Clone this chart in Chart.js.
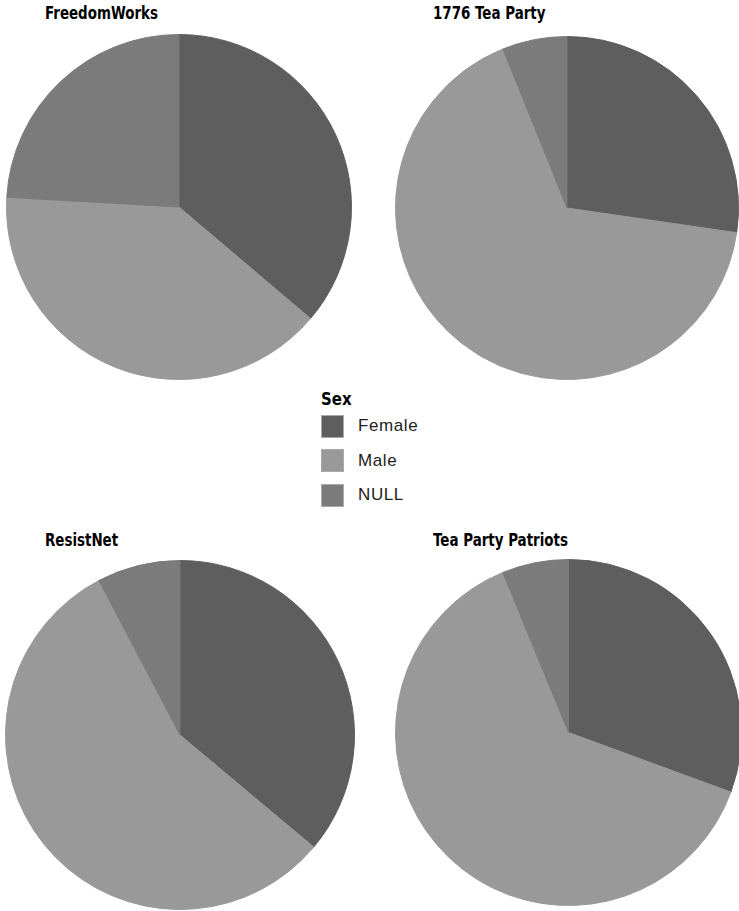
<!DOCTYPE html>
<html>
<head>
<meta charset="utf-8">
<script src="https://cdn.jsdelivr.net/npm/chart.js@4/dist/chart.umd.min.js"></script>
<style>
  body { margin: 0; background: #fff; width: 739px; height: 911px; overflow: hidden; position: relative; }
  .title { position: absolute; font-family: "DejaVu Sans", sans-serif; font-weight: bold; font-size: 18px; color: #000; line-height: 1; transform: scaleX(0.745); transform-origin: left top; white-space: nowrap; }
  .pie { position: absolute; }
  #legend { position: absolute; left: 321px; top: 389px; font-family: "Liberation Sans", Arial, sans-serif; }
  #legend .head { font-family: "DejaVu Sans", sans-serif; font-weight: bold; font-size: 18px; line-height: 20px; height: 20px; transform: scaleX(0.83); transform-origin: left top; }
  #legend .item { display: flex; align-items: center; height: 34.5px; font-size: 17px; letter-spacing: 0.6px; color: #222; }
  #legend .sw { width: 23px; height: 23px; margin-right: 14px; box-sizing: border-box; border: 1px solid #aaa; }
</style>
</head>
<body>
<div class="title" style="left:45px;top:4px">FreedomWorks</div>
<div class="title" style="left:433px;top:4px">1776 Tea Party</div>
<div class="title" style="left:45px;top:531px">ResistNet</div>
<div class="title" style="left:433px;top:531px">Tea Party Patriots</div>

<canvas id="c1" class="pie" width="346" height="346" style="left:6px;top:34px;width:346px;height:346px"></canvas>
<canvas id="c2" class="pie" width="344" height="344" style="left:395px;top:36px;width:344px;height:344px"></canvas>
<canvas id="c3" class="pie" width="350" height="350" style="left:5px;top:560px;width:350px;height:350px"></canvas>
<canvas id="c4" class="pie" width="347" height="347" style="left:395px;top:559px;width:347px;height:347px"></canvas>

<div id="legend"><div class="head">Sex</div></div>

<script>
// Data (percent of members by sex)
var categories = ["Female", "Male", "NULL"];
var colors = ["#5e5e5e", "#999999", "#7b7b7b"];
var freedomWorks = [36.2, 39.7, 24.1];
var teaParty1776 = [27.3, 66.6, 6.1];
var resistNet = [36.1, 56.2, 7.7];
var teaPartyPatriots = [30.6, 63.2, 6.2];

function makePie(id, values) {
    new Chart(document.getElementById(id).getContext('2d'), {
        type: 'pie',
        data: {
            labels: categories,
            datasets: [{
                data: values,
                backgroundColor: colors,
                borderColor: colors,
                borderWidth: 1,
                hoverOffset: 0
            }]
        },
        options: {
            responsive: false,
            animation: false,
            layout: { padding: 0 },
            plugins: {
                legend: { display: false },
                tooltip: { enabled: false }
            }
        }
    });
}

makePie('c1', freedomWorks);
makePie('c2', teaParty1776);
makePie('c3', resistNet);
makePie('c4', teaPartyPatriots);

// legend
var legend = document.getElementById('legend');
categories.forEach(function (name, i) {
    var row = document.createElement('div');
    row.className = 'item';
    var sw = document.createElement('span');
    sw.className = 'sw';
    sw.style.background = colors[i];
    row.appendChild(sw);
    row.appendChild(document.createTextNode(name));
    legend.appendChild(row);
});
</script>
</body>
</html>
